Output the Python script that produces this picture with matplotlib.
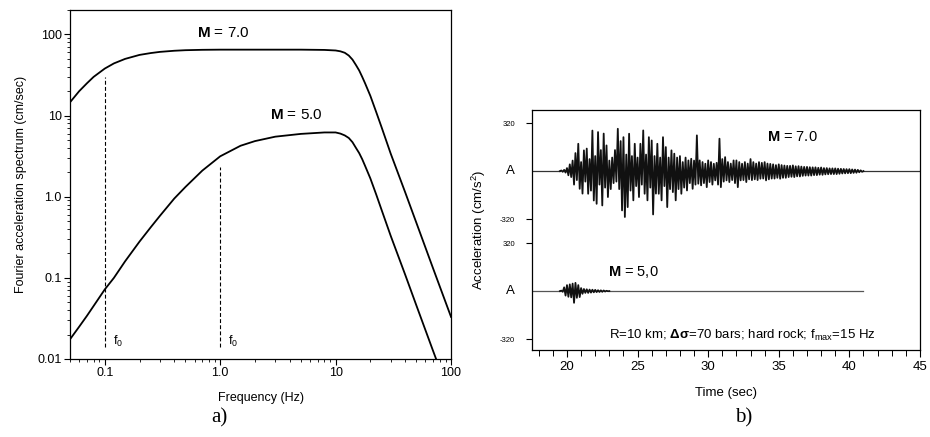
import numpy as np
import matplotlib
matplotlib.use("Agg")
import matplotlib.pyplot as plt
from matplotlib.ticker import NullFormatter, MultipleLocator

plt.rcParams['font.family'] = ['Liberation Sans', 'DejaVu Sans']
plt.rcParams['mathtext.fontset'] = 'custom'
plt.rcParams['mathtext.rm'] = 'Liberation Sans'
plt.rcParams['mathtext.it'] = 'Liberation Sans:italic'
plt.rcParams['mathtext.bf'] = 'Liberation Sans:bold'

# --- panel a: Fourier acceleration spectra ---
freq = [0.05, 0.06, 0.07, 0.08, 0.1, 0.12, 0.15, 0.2, 0.25, 0.3, 0.4, 0.5,
        0.7, 1.0, 1.5, 2.0, 3.0, 5.0, 8.0, 10.0, 11.0, 12.0, 13.0, 14.0,
        15.0, 16.0, 17.0, 18.0, 20.0, 22.5, 25.0, 30.0, 40.0, 50.0, 70.0, 100.0]
spec_m7 = [14.6, 20, 25, 30, 38, 44, 50, 56, 59, 61, 63, 64,
           64.7, 65, 65, 65, 65, 65, 64.5, 63.5, 62, 59.5, 55, 49,
           42, 36, 30, 25, 17.5, 11, 7.2, 3.4, 1.14, 0.48, 0.13, 0.033]
spec_m5 = [0.0175, 0.025, 0.034, 0.045, 0.072, 0.1, 0.16, 0.28, 0.42, 0.58, 0.95, 1.32,
           2.1, 3.15, 4.25, 4.85, 5.5, 5.95, 6.2, 6.2, 6.0, 5.7, 5.3, 4.7,
           4.0, 3.45, 2.9, 2.4, 1.68, 1.06, 0.69, 0.33, 0.11, 0.046, 0.0125, 0.0032]
corner_freqs = [0.1, 1.0]
corner_tops = [30, 2.3]
corner_bottom = 0.014

# --- panel b: simulated accelerograms, sampled every 0.1 s from 19.5 s ---
trace_t0 = 19.5
trace_dt = 0.1
axis_start = 17.5
m7_end = 45.0
m5_end = 41.0
acc_m7 = [
    0, 4, -5, 8, -10,
    20, -28, 45, -40, 70, -90, 120, -60, 182, -118,
    60, -150, 138, -70, 150, -151, 80, -130, 270, -196,
    100, -218, 260, -90, 140, -229, 250, -110, 171, -173,
    70, -120, 90, -80, 140, -70, 282, -120, 200, -262,
    226, -306, 110, -240, 249, -130, 100, -195, 182, -100,
    90, -173, 182, -90, 271, -151, 110, -195, 226, -110,
    204, -289, 100, -150, 182, -151, 90, -195, 226, -100,
    160, -240, 90, -120, 138, -140, 116, -195, 90, -120,
    100, -151, 60, -110, 90, -129, 71, -80, 82, -118,
    70, -90, 238, -84, 71, -95, 60, -80, 49, -107,
    71, -73, 60, -90, 49, -62, 55, -90, 216, -107,
    80, -70, 93, -62, 60, -73, 50, -60, 71, -80,
    71, -107, 60, -62, 49, -60, 60, -73, 50, -55,
    80, -60, 60, -55, 50, -60, 60, -51, 55, -50,
    60, -62, 50, -55, 48, -50, 45, -50, 40, -45,
    45, -51, 40, -45, 37, -45, 35, -40, 35, -38,
    38, -40, 32, -35, 33, -36, 30, -32, 28, -30,
    28, -30, 26, -30, 25, -27, 25, -27, 22, -24,
    24, -25, 20, -22, 20, -21, 18, -20, 18, -20,
    18, -20, 16, -18, 15, -16, 14, -15, 13, -14,
    13, -14, 11, -12, 10, -11, 8, -8, 5, -5,
    0,
]
acc_m5 = [
    0, 3, -5, 25, -30,
    40, -38, 45, -42, 50, -78, 55, -45, 40, -40,
    20, -18, 14, -12, 12, -12, 10, -10, 9, -8,
    8, -7, 6, -6, 5, -5, 4, -3, 2, -1,
    0,
]
offset_m7 = 800
offset_m5 = 0
amp_tick = 320

fig = plt.figure(figsize=(9.3, 4.37), dpi=100)

# ---------------- panel a ----------------
ax1 = fig.add_axes([0.0753, 0.1785, 0.4097, 0.7985])
ax1.loglog(freq, spec_m7, color='black', lw=1.3)
ax1.loglog(freq, spec_m5, color='black', lw=1.3)
for fc, top in zip(corner_freqs, corner_tops):
    ax1.plot([fc, fc], [corner_bottom, top], color='black', lw=0.8,
             linestyle=(0, (3.5, 2)))
ax1.set_xlim(0.05, 100)
ax1.set_ylim(0.01, 200)
ax1.set_xticks([0.1, 1.0, 10, 100], ['0.1', '1.0', '10', '100'])
ax1.set_yticks([0.01, 0.1, 1.0, 10, 100], ['0.01', '0.1', '1.0', '10', '100'])
ax1.xaxis.set_minor_formatter(NullFormatter())
ax1.yaxis.set_minor_formatter(NullFormatter())
ax1.tick_params(which='major', length=4, width=0.8, labelsize=9, pad=2)
ax1.tick_params(which='minor', length=2.5, width=0.6)
ax1.set_xlabel('Frequency (Hz)', fontsize=9)
ax1.set_ylabel('Fourier acceleration spectrum (cm/sec)', fontsize=9)
ax1.xaxis.set_label_coords(0.5, -0.095)
ax1.yaxis.set_label_coords(-0.113, 0.5)
ax1.text(0.63, 105, r'$\mathbf{M}$ = 7.0', fontsize=11, va='center')
ax1.text(2.7, 10.2, r'$\mathbf{M}$ = 5.0', fontsize=11, va='center')
ax1.text(0.118, 0.0165, r'f$_0$', fontsize=9, va='center')
ax1.text(1.18, 0.0165, r'f$_0$', fontsize=9, va='center')
for s in ax1.spines.values():
    s.set_linewidth(0.9)

# ---------------- panel b ----------------
ax2 = fig.add_axes([0.5717, 0.199, 0.4175, 0.5492])
t7 = trace_t0 + trace_dt * np.arange(len(acc_m7))
t5 = trace_t0 + trace_dt * np.arange(len(acc_m5))
# quiet baseline before and after each record
ax2.plot([axis_start, t7[0]], [offset_m7, offset_m7], color='#333333', lw=0.9)
ax2.plot([t7[-1], m7_end], [offset_m7, offset_m7], color='#333333', lw=0.9)
ax2.plot([axis_start, t5[0]], [offset_m5, offset_m5], color='#555555', lw=0.9)
ax2.plot([t5[-1], m5_end], [offset_m5, offset_m5], color='#555555', lw=0.9)
# the shaking itself
ax2.plot(t7, np.array(acc_m7) + offset_m7, color='#111111', lw=1.3)
ax2.plot(t5, np.array(acc_m5) + offset_m5, color='#111111', lw=1.3)
ax2.set_xlim(axis_start, 45)
ax2.set_ylim(-393, 1207)
ax2.xaxis.set_major_locator(MultipleLocator(5))
ax2.xaxis.set_minor_locator(MultipleLocator(1))
ax2.tick_params(axis='x', which='major', length=5, width=0.8, labelsize=9.5, pad=3)
ax2.tick_params(axis='x', which='minor', length=4, width=0.7)
yt = [offset_m5 - amp_tick, offset_m5, offset_m5 + amp_tick,
      offset_m7 - amp_tick, offset_m7, offset_m7 + amp_tick]
ax2.set_yticks(yt, ['-320', '', '320', '-320', '', '320'])
ax2.tick_params(axis='y', length=4, width=0.8, labelsize=5.5, pad=8)
for off in (offset_m5, offset_m7):
    ax2.text(axis_start - 1.2, off, 'A', fontsize=9.5, ha='right', va='center')
for i in (1, 4):
    ax2.yaxis.get_major_ticks()[i].tick1line.set_visible(False)
ax2.set_xlabel('Time (sec)', fontsize=9.5)
ax2.set_ylabel('Acceleration (cm/s$^2$)', fontsize=9.5)
ax2.xaxis.set_label_coords(0.5, -0.156)
ax2.yaxis.set_label_coords(-0.1125, 0.5)
ax2.text(34.2, 1027, r'$\mathbf{M}$ = 7.0', fontsize=10.5, va='center')
ax2.text(22.9, 127, r'$\mathbf{M}$ = 5,0', fontsize=10.5, va='center')
ax2.text(23.0, -293, r'R=10 km; $\mathbf{\Delta\sigma}$=70 bars; hard rock; f$_{\rm max}$=15 Hz',
         fontsize=9.5, va='center')
for s in ax2.spines.values():
    s.set_linewidth(0.9)

fig.text(0.236, 0.043, 'a)', family=['Liberation Serif'], fontsize=15, ha='center', va='center')
fig.text(0.8, 0.043, 'b)', family=['Liberation Serif'], fontsize=15, ha='center', va='center')

fig.savefig('out.png', dpi=100)
